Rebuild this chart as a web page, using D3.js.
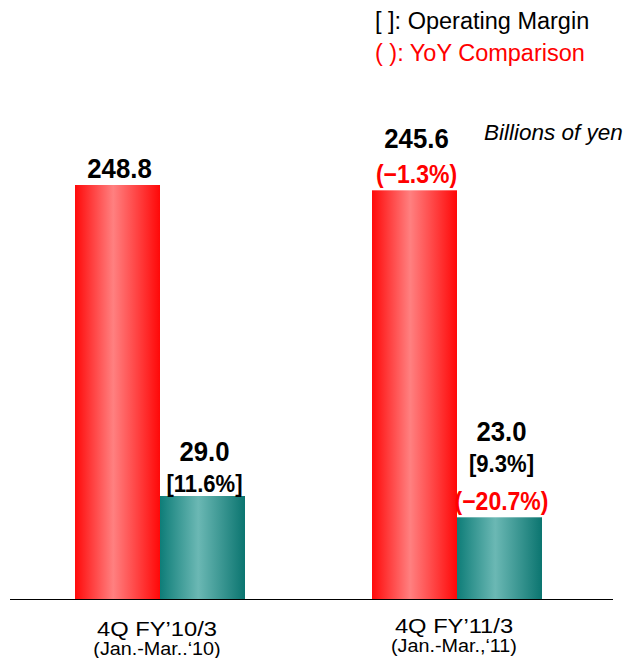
<!DOCTYPE html>
<html>
<head>
<meta charset="utf-8">
<script src="https://cdn.jsdelivr.net/npm/d3@7"></script>
<style>
  body { margin: 0; background: #fff; }
  svg { font-family: "Liberation Sans", Arial, sans-serif; }
</style>
</head>
<body>
<div id="chart"></div>
<script>
// data
const periods = ["4Q FY\u201910/3", "4Q FY\u201911/3"];
const periodSubs = ["(Jan.-Mar..\u201810)", "(Jan.-Mar.,\u201811)"];
const sales = [248.8, 245.6];
const salesYoY = [null, "(\u22121.3%)"];
const opIncome = [29.0, 23.0];
const opMargin = ["[11.6%]", "[9.3%]"];
const opYoY = [null, "(\u221220.7%)"];

const width = 633;
const height = 658;
const baseY = 599;

const svg = d3
  .select("#chart")
  .append("svg")
  .attr("width", width)
  .attr("height", height);

const defs = svg.append("defs");

function gradient(id, edgeL, mid, edgeR) {
  const g = defs
    .append("linearGradient")
    .attr("id", id)
    .attr("x1", "0%")
    .attr("x2", "100%");
  g.append("stop").attr("offset", "0%").attr("stop-color", edgeL);
  g.append("stop").attr("offset", "45%").attr("stop-color", mid);
  g.append("stop").attr("offset", "100%").attr("stop-color", edgeR);
}
gradient("redGrad", "#ff0a0a", "#ff8080", "#ff0808");
gradient("tealGrad", "#0e7d78", "#6bb8b4", "#0b7570");

// group positions
const x = d3.scaleBand().domain(periods).range([11.5, 605.5]).padding(0);
const barW = 85;

// two value scales (sales and operating income are drawn on different scales)
const ySales = d3.scaleLinear().domain([0, 248.8]).range([baseY, 185]);
const yOp = d3.scaleLinear().domain([0, 29.0]).range([baseY, 496]);

const redX = (i) => x(periods[i]) + x.bandwidth() / 2 - barW;
const tealX = (i) => x(periods[i]) + x.bandwidth() / 2;

// red bars
svg
  .selectAll("rect.sales")
  .data(sales)
  .enter()
  .append("rect")
  .attr("class", "sales")
  .attr("x", (d, i) => redX(i))
  .attr("y", (d) => ySales(d))
  .attr("width", barW)
  .attr("height", (d) => baseY - ySales(d))
  .attr("fill", "url(#redGrad)");

// teal bars
svg
  .selectAll("rect.op")
  .data(opIncome)
  .enter()
  .append("rect")
  .attr("class", "op")
  .attr("x", (d, i) => tealX(i))
  .attr("y", (d) => yOp(d))
  .attr("width", barW)
  .attr("height", (d) => baseY - yOp(d))
  .attr("fill", "url(#tealGrad)");

// baseline
svg
  .append("line")
  .attr("x1", 10)
  .attr("x2", 613)
  .attr("y1", baseY + 0.5)
  .attr("y2", baseY + 0.5)
  .attr("stroke", "#000")
  .attr("stroke-width", 1.2);

// labels stacked above a bar, bottom line first
function stackLabels(cx, top, lines) {
  let y = top;
  lines
    .slice()
    .reverse()
    .forEach((ln) => {
      if (!ln.text) return;
      y -= ln.gap;
      svg
        .append("text")
        .attr("x", cx)
        .attr("y", y)
        .attr("text-anchor", "middle")
        .attr("font-weight", "bold")
        .attr("font-size", ln.size)
        .attr("fill", ln.color)
        .attr("transform", `translate(${cx},0) scale(0.92,1) translate(${-cx},0)`)
        .text(ln.text);
    });
}

sales.forEach((d, i) => {
  stackLabels(redX(i) + barW / 2 + 2, ySales(d), [
    { text: d.toFixed(1), size: 28, color: "#000", gap: salesYoY[i] ? 35 : 7 },
    { text: salesYoY[i], size: 25, color: "#ff0000", gap: 7 },
  ]);
});

opIncome.forEach((d, i) => {
  stackLabels(tealX(i) + barW / 2 + 2, yOp(d), [
    { text: d.toFixed(1), size: 28, color: "#000", gap: 31 },
    { text: opMargin[i], size: 24, color: "#000", gap: opYoY[i] ? 38 : 4 },
    { text: opYoY[i], size: 25, color: "#ff0000", gap: 7 },
  ]);
});

// category labels (the source font is a little wide, so stretch horizontally)
function wideText(cx, y, size, stretch, str) {
  svg
    .append("text")
    .attr("x", cx)
    .attr("y", y)
    .attr("text-anchor", "middle")
    .attr("font-size", size)
    .attr("transform", `translate(${cx},0) scale(${stretch},1) translate(${-cx},0)`)
    .text(str);
}

periods.forEach((p, i) => {
  const cx = x(p) + x.bandwidth() / 2;
  const shift = i === 0 ? 0 : -3;
  wideText(cx - 3, 636 + shift, 21, 1.13, p);
  wideText(cx - 3, 655 + shift, 17.5, 1.13, periodSubs[i]);
});

// legend + unit
svg
  .append("text")
  .attr("x", 375)
  .attr("y", 29)
  .attr("font-size", 23.5)
  .attr("fill", "#000")
  .text("[ ]: Operating Margin");
svg
  .append("text")
  .attr("x", 375)
  .attr("y", 61)
  .attr("font-size", 23.5)
  .attr("fill", "#ff0000")
  .text("( ): YoY Comparison");
svg
  .append("text")
  .attr("x", 484)
  .attr("y", 140)
  .attr("font-size", 22.5)
  .attr("font-style", "italic")
  .text("Billions of yen");
</script>
</body>
</html>
